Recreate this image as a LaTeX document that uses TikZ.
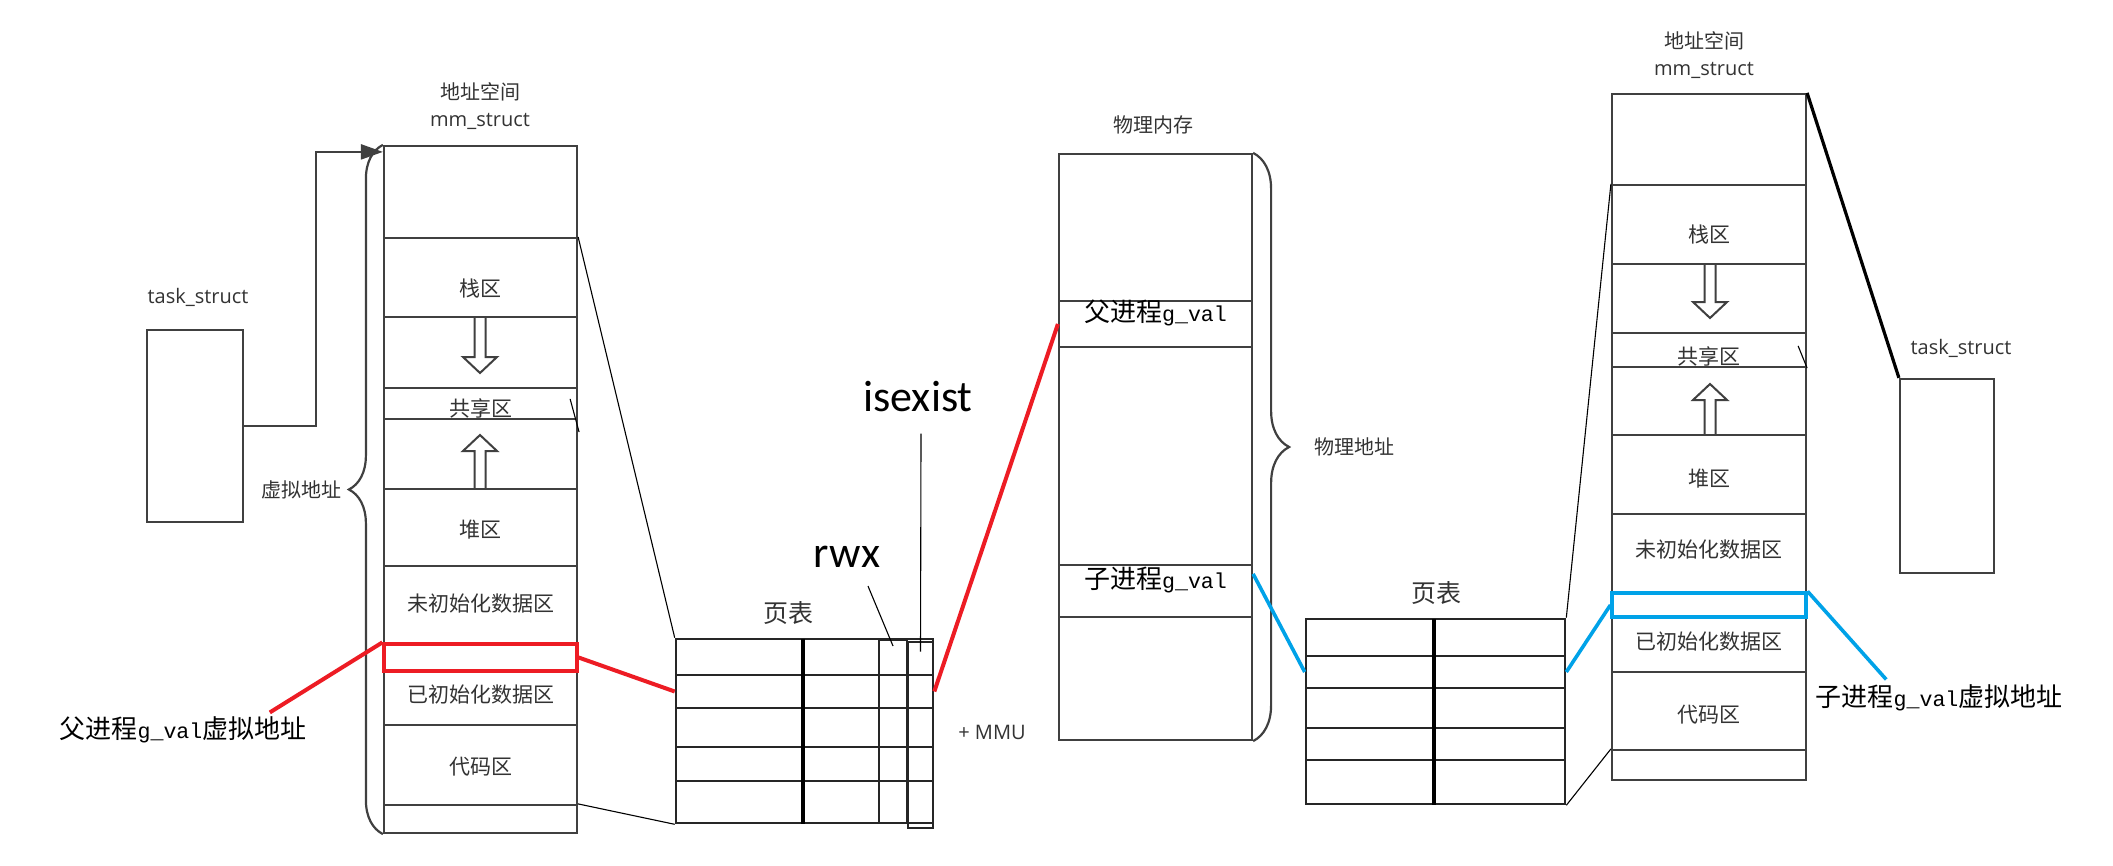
\documentclass[tikz,border=0pt]{standalone}
\usepackage{fontspec}
\setmainfont{Open Sans}
\setmonofont{Liberation Mono}
\newfontfamily\cjk{Noto Sans CJK SC}
\newfontfamily\calfont{Carlito}
\usetikzlibrary{arrows.meta,positioning,calc,decorations.pathreplacing,fit}
\definecolor{boxc}{HTML}{404040}
\definecolor{txtc}{HTML}{333333}
\definecolor{redc}{HTML}{ED1C24}
\definecolor{bluec}{HTML}{00A2E8}
\newcommand{\gval}{{\ttfamily\fontsize{10.8}{13}\selectfont g\_val}}

\begin{document}
\begin{tikzpicture}[
  x=0.5pt, y=-0.5pt,
  seg/.style={draw=boxc, line width=1.1pt, inner sep=0pt, text=txtc,
              font=\cjk\fontsize{10.5}{12}\selectfont},
  rowtxt/.style={inner sep=0pt, text=txtc, font=\cjk\fontsize{10.5}{12}\selectfont},
  area/.style args={#1/#2}{seg, label={[rowtxt, yshift=#2]center:#1}},
  cell/.style={draw=black!85, line width=1.3pt, inner sep=0pt},
  lbl/.style={text=txtc, font=\fontsize{10}{13.5}\selectfont, inner sep=0pt},
  big/.style={font=\calfont\fontsize{22}{24}\selectfont, inner sep=0pt},
  note/.style={font=\cjk\fontsize{13}{15}\selectfont, inner sep=0pt},
  thin/.style={line width=0.55pt},
  redl/.style={draw=redc, line width=2pt},
  bluel/.style={draw=bluec, line width=1.8pt},
  pics/hollow/.style={code={
    \draw[boxc, line width=1pt] (-5.5,0) -- (-5.5,#1) -- (-17,#1) -- (0,#1+16)
      -- (17,#1) -- (5.5,#1) -- (5.5,0);}}
]
  \fill[white] (0,0) rectangle (2113,866);
  \useasboundingbox (0,0) rectangle (2113,866);

  % parent process: task_struct and mm_struct
  \node[seg, fit={(147,330) (243,522)}] (ltask) {};
  \node[lbl] (ltasklbl) at (198,297) {task\_struct};
  \node[lbl, align=center] (lmm) at (480,106) {{\cjk 地址空间}\\mm\_struct};

  \node[seg, fit={(384,146) (577,238)}] (ltop) {};
  \node[area=栈区/-5.4pt, fit={(384,238) (577,317)}] (lstack) {};
  \node[seg, fit={(384,317) (577,388)}] (lgap1) {};
  \node[area=共享区/-2.4pt, fit={(384,388) (577,419)}] (lshare) {};
  \node[seg, fit={(384,419) (577,489)}] (lgap2) {};
  \node[area=堆区/-0.9pt, fit={(384,489) (577,566)}] (lheap) {};
  \node[area=未初始化数据区/0.8pt, fit={(384,566) (577,644)}] (lbss) {};
  \node[area=已初始化数据区/1.8pt, fit={(384,671) (577,725)}] (ldata) {};
  \node[area=代码区/-0.6pt, fit={(384,725) (577,805)}] (lcode) {};
  \node[seg, fit={(384,805) (577,833)}] (lbot) {};
  \node[seg, draw=redc, line width=1.6pt, fit={(384,644) (577,671)}] (lslot) {};

  \pic at (480,317) {hollow=40};
  \pic[rotate=180] at (480,489) {hollow=38};
  \draw[thin] ($(lshare.north east)+(-8,12)$) -- ($(lshare.south east)+(1,12)$);

  \draw[boxc, line width=1.1pt, -{Triangle[length=11pt,width=7.5pt]}]
    (ltask.east) -- ++(72,0) |- ([yshift=-3.5pt]ltop.north west);
  \draw[boxc, line width=1.1pt, decorate, decoration={brace, amplitude=17pt}]
    (lbot.south west) -- (ltop.north west)
    node[midway, left=20pt, lbl, font=\cjk\fontsize{10}{12}\selectfont] (vlbl) {虚拟地址};

  \node[note] (lpar) at (183,730) {父进程\gval 虚拟地址};
  \draw[redl] (lslot.north west) -- ($(lpar.north east)+(-37,-4)$);

  % page table of the parent
  \node[cell, fit={(676,639) (933,675)}] (pa1) {};
  \node[cell, fit={(676,675) (933,708)}] (pa2) {};
  \node[cell, fit={(676,708) (933,747)}] (pa3) {};
  \node[cell, fit={(676,747) (933,781)}] (pa4) {};
  \node[cell, fit={(676,781) (933,823)}] (pa5) {};
  \coordinate (pdiv) at (803,639);
  \draw[line width=2pt] (pdiv) -- (pdiv |- pa5.south);
  \node[cell, line width=1pt, fit={(879,640) (907,823)}] (rcol) {};
  \node[cell, fit={(908,642) (933,828)}] (ecol) {};
  \node[lbl, font=\cjk\fontsize{12.5}{14}\selectfont] (ptlbl) at (788,613) {页表};
  \node[lbl] (mmu) at (992,732) {+ MMU};

  \node[big] (rwx) at (847,557) {rwx};
  \node[big] (isx) at (918,397) {isexist};
  \draw[thin] ($(rwx.south)+(21,18)$) -- ([yshift=-3.5pt]rcol.north);
  \draw[thin] ($(isx.south)+(3,21)$) -- ([yshift=-5.5pt]ecol.north);

  \draw[thin] (lstack.north east) -- (pa1.north west);
  \draw[thin] (lbot.north east) -- (pa5.south west);
  \draw[redl] (lslot.east) -- (pa2.west);

  % physical memory
  \node[lbl, font=\cjk\fontsize{10}{12}\selectfont] (pmemlbl) at (1153,125) {物理内存};
  \node[seg, fit={(1059,154) (1252,301)}] (ptop) {};
  \node[seg, note, text=black, fit={(1059,301) (1252,347)}] (ppar) {父进程\gval};
  \node[seg, fit={(1059,347) (1252,565)}] (pmid) {};
  \node[seg, note, text=black, fit={(1059,565) (1252,617)}] (pchild) {子进程\gval};
  \node[seg, fit={(1059,617) (1252,740)}] (pbot) {};
  \draw[boxc, line width=1.1pt, decorate, decoration={brace, amplitude=18pt}]
    (ptop.north east) -- (pbot.south east)
    node[midway, right=30pt, lbl, font=\cjk\fontsize{10}{12}\selectfont] (palbl) {物理地址};

  \draw[redl] (pa2.east) -- (ppar.west);

  % page table of the child
  \node[cell, fit={(1306,619) (1565,656)}] (qa1) {};
  \node[cell, fit={(1306,656) (1565,688)}] (qa2) {};
  \node[cell, fit={(1306,688) (1565,728)}] (qa3) {};
  \node[cell, fit={(1306,728) (1565,760)}] (qa4) {};
  \node[cell, fit={(1306,760) (1565,804)}] (qa5) {};
  \coordinate (qdiv) at (1434,619);
  \draw[line width=2pt] (qdiv) -- (qdiv |- qa5.south);
  \node[lbl, font=\cjk\fontsize{12.5}{14}\selectfont] (qtlbl) at (1436,593) {页表};

  \draw[bluel] ([yshift=-5pt]pchild.north east) -- (qa2.west);

  % child process: mm_struct and task_struct
  \node[lbl, align=center] (rmm) at (1704,55) {{\cjk 地址空间}\\mm\_struct};
  \node[seg, fit={(1612,94) (1806,185)}] (rtop) {};
  \node[area=栈区/-4.9pt, fit={(1612,185) (1806,264)}] (rstack) {};
  \node[seg, fit={(1612,264) (1806,333)}] (rgap1) {};
  \node[area=共享区/-3.1pt, fit={(1612,333) (1806,367)}] (rshare) {};
  \node[seg, fit={(1612,367) (1806,435)}] (rgap2) {};
  \node[area=堆区/-1.9pt, fit={(1612,435) (1806,514)}] (rheap) {};
  \node[area=未初始化数据区/2.1pt, fit={(1612,514) (1806,593)}] (rbss) {};
  \node[area=已初始化数据区/1.6pt, fit={(1612,617) (1806,672)}] (rdata) {};
  \node[area=代码区/-1.6pt, fit={(1612,672) (1806,750)}] (rcode) {};
  \node[seg, fit={(1612,750) (1806,780)}] (rbot) {};
  \node[seg, draw=bluec, line width=1.6pt, fit={(1612,593) (1806,617)}] (rslot) {};

  \pic at (1710,264) {hollow=38};
  \pic[rotate=180] at (1710,435) {hollow=35};
  \draw[thin] ($(rshare.north east)+(-9,14)$) -- ($(rshare.south east)+(0,0)$);

  \node[seg, fit={(1900,379) (1994,573)}] (rtask) {};
  \node[lbl] (rtasklbl) at (1961,348) {task\_struct};
  \draw[line width=1.6pt] (rtop.north east) -- (rtask.north west);

  \draw[thin] (rstack.north west) -- (qa1.north east);
  \draw[thin] (rbot.north west) -- (qa5.south east);
  \draw[bluel] (qa2.east) -- (rslot.west);

  \node[note] (rlbl) at (1939,698) {子进程\gval 虚拟地址};
  \draw[bluel] (rslot.north east) -- ($(rlbl.north west)+(71,-5)$);
\end{tikzpicture}
\end{document}
